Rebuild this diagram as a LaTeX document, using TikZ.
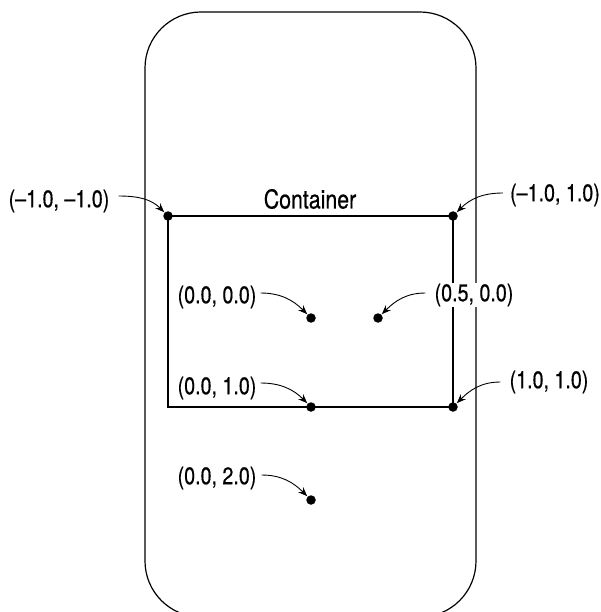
\documentclass[tikz,border=0pt]{standalone}
\usepackage{fontspec}
\setmainfont[FakeStretch=0.82,FakeBold=0.5]{TeX Gyre Heros}
\usetikzlibrary{arrows.meta}
\begin{document}
\begin{tikzpicture}[x=1pt,y=1pt,
  dot/.style={circle,fill=black,inner sep=0pt,minimum size=9.5pt},
  lbl/.style={fill=white,inner xsep=3pt,inner ysep=1pt,font=\fontsize{24}{28}\selectfont},
  title/.style={inner sep=0pt,font=\fontsize{26}{30}\selectfont},
  arr/.style={-{Stealth[length=9pt,width=7pt]},line width=0.9pt,shorten >=0.5pt},
  box/.style={line width=1.2pt,line join=miter},
  shell/.style={line width=1.2pt,rounded corners=56pt}]
\useasboundingbox (0,0) rectangle (600,-612);
\begin{scope}
\clip (0,0) rectangle (600,-612);
\draw[shell] (145,-12) rectangle (476,-617);
\end{scope}
% corner points
\node[dot] (A) at (168,-216) {};
\node[dot] (B) at (453,-216) {};
\node[dot] (C) at (311,-318) {};
\node[dot] (D) at (378,-318) {};
\node[dot] (E) at (311,-407) {};
\node[dot] (F) at (453,-407) {};
\node[dot] (G) at (311,-500) {};
\coordinate (BL) at (168,-407);
\draw[box] (A.center) -- (B.center) -- (F.center) -- (E.center) -- (BL) -- cycle;
\node[title] (T) at (310,-199) {Container};
% labels
\node[lbl] (L1) at (59,-201) {(–1.0, –1.0)};
\node[lbl] (L2) at (555,-195) {(–1.0, 1.0)};
\node[lbl] (L3) at (217,-297) {(0.0, 0.0)};
\node[lbl] (L4) at (474,-295) {(0.5, 0.0)};
\node[lbl] (L5) at (217,-388) {(0.0, 1.0)};
\node[lbl] (L6) at (549,-382) {(1.0, 1.0)};
\node[lbl] (L7) at (217,-478) {(0.0, 2.0)};
% arrows
\draw[arr] ([xshift=6pt,yshift=5pt]L1.east) to[out=0,in=135] (A);
\draw[arr] ([xshift=-4pt,yshift=2pt]L2.west) to[out=180,in=45] (B);
\draw[arr] ([xshift=1pt,yshift=4pt]L3.east) to[out=0,in=135] (C);
\draw[arr] ([xshift=-6pt,yshift=2pt]L4.west) to[out=180,in=45] (D);
\draw[arr] ([xshift=1pt,yshift=5pt]L5.east) to[out=0,in=135] (E);
\draw[arr] ([xshift=-6pt,yshift=0pt]L6.west) to[out=180,in=45] (F);
\draw[arr] ([xshift=2pt,yshift=3pt]L7.east) to[out=0,in=135] (G);
\end{tikzpicture}
\end{document}
